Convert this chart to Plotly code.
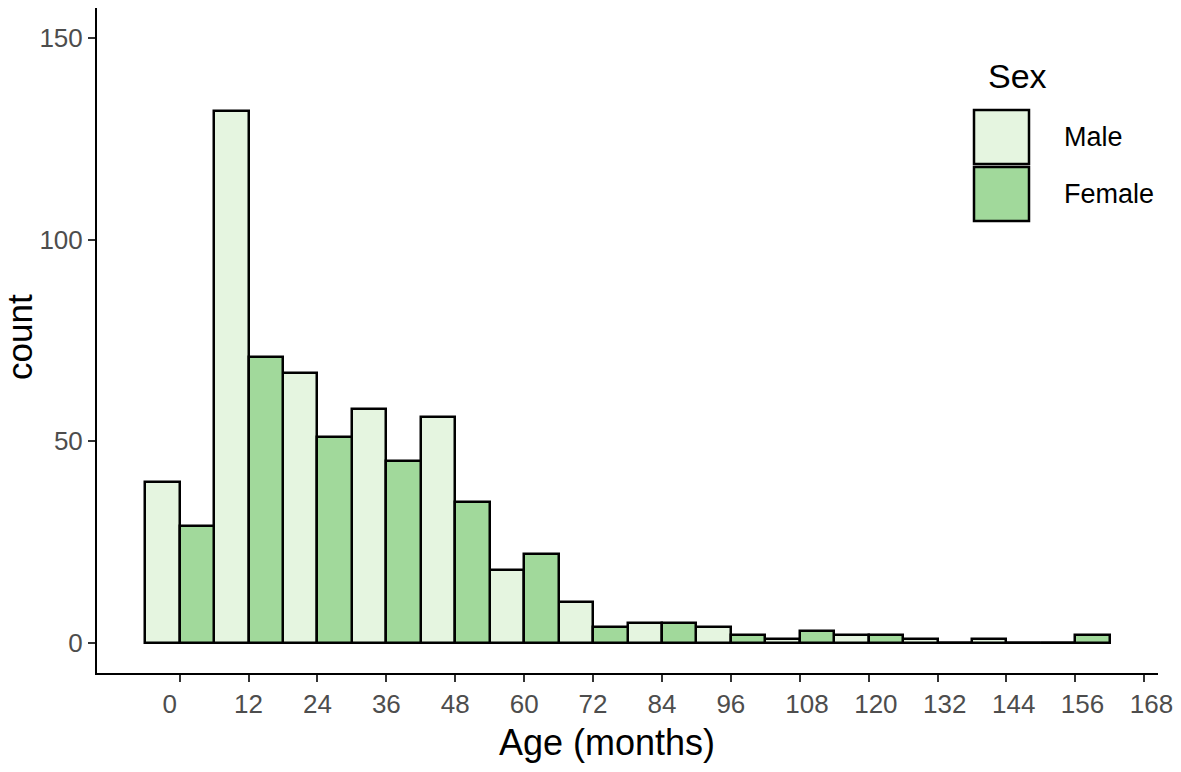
import plotly.graph_objects as go

# histogram counts, binwidth 12 centred on multiples of 12, dodged by sex
bin_centers = [0, 12, 24, 36, 48, 60, 72, 84, 96, 108, 120, 132, 144, 156]
male_counts = [40, 132, 67, 58, 56, 18, 10, 5, 4, 1, 2, 1, 1, 0]
female_counts = [29, 71, 51, 45, 35, 22, 4, 5, 2, 3, 2, 0, 0, 2]
x_ticks = list(range(0, 169, 12))
y_ticks = [0, 50, 100, 150]

male_fill = '#E5F5E0'
female_fill = '#A1D99B'
binwidth = 12

W, H = 1181, 772
L, R, T, B = 97, 23, 8, 99
font = 'Liberation Sans, Arial, sans-serif'


def px_x(x):
    # screen pixel -> paper coordinate
    return (x - L) / (W - L - R)


def px_y(y):
    return (H - B - y) / (H - T - B)


# labels in the original sit left-aligned-ish rather than centred; pad them
def pad_label(v):
    s = str(v)
    if len(s) == 1:
        return s + '\u2007\u2009'
    if len(s) == 3:
        return '\u2007' + s
    return s


x_labels = [pad_label(v) for v in x_ticks]

fig = go.Figure()
fig.add_trace(go.Bar(x=bin_centers, y=male_counts, name='Male',
                     marker=dict(color=male_fill, line=dict(color='black', width=2.5)),
                     showlegend=False))
fig.add_trace(go.Bar(x=bin_centers, y=female_counts, name='Female',
                     marker=dict(color=female_fill, line=dict(color='black', width=2.5)),
                     showlegend=False))

# empty bins still get their outline drawn flat on the baseline (as ggplot does)
zx, zy = [], []
for c, m, f in zip(bin_centers, male_counts, female_counts):
    if m == 0:
        zx += [c - binwidth / 2, c, None]
        zy += [0, 0, None]
    if f == 0:
        zx += [c, c + binwidth / 2, None]
        zy += [0, 0, None]
fig.add_trace(go.Scatter(x=zx, y=zy, mode='lines', line=dict(color='black', width=2.5),
                         showlegend=False, hoverinfo='skip'))

# legend drawn by hand so the keys are big like ggplot's
shapes = []
annotations = [
    dict(text='Sex', x=px_x(986), y=px_y(76), xref='paper', yref='paper',
         xanchor='left', yanchor='middle', showarrow=False,
         font=dict(family=font, size=34, color='black')),
    # axis titles
    dict(text='Age (months)', x=px_x(607), y=px_y(743), xref='paper', yref='paper',
         xanchor='center', yanchor='middle', showarrow=False,
         font=dict(family=font, size=36, color='black')),
    dict(text='count', x=px_x(19), y=px_y(337), xref='paper', yref='paper',
         xanchor='center', yanchor='middle', showarrow=False, textangle=-90,
         font=dict(family=font, size=35, color='black')),
]
for label, fill, y0, y1 in [('Male', male_fill, 110, 164), ('Female', female_fill, 167, 221)]:
    shapes.append(dict(type='rect', xref='paper', yref='paper',
                       x0=px_x(974), x1=px_x(1029), y0=px_y(y0), y1=px_y(y1),
                       fillcolor=fill, line=dict(color='black', width=2.5)))
    annotations.append(dict(text=label, x=px_x(1062), y=px_y((y0 + y1) / 2),
                            xref='paper', yref='paper', xanchor='left', yanchor='middle',
                            showarrow=False, font=dict(family=font, size=27, color='black')))

fig.update_layout(
    width=W, height=H,
    margin=dict(l=L, r=R, t=T, b=B, autoexpand=False),
    plot_bgcolor='white',
    paper_bgcolor='white',
    barmode='group',
    bargap=0,
    bargroupgap=0,
    font=dict(family=font),
    shapes=shapes,
    annotations=annotations,
)
fig.update_xaxes(range=[-14.4, 170.4], tickvals=x_ticks, ticktext=x_labels,
                 showgrid=False, zeroline=False,
                 showline=True, linecolor='black', linewidth=2,
                 ticks='outside', ticklen=7, tickwidth=2, tickcolor='#333333',
                 tickfont=dict(family=font, size=26, color='#4D4D4D'))
fig.update_yaxes(range=[-7.5, 157.5], tickvals=y_ticks, showgrid=False, zeroline=False,
                 showline=True, linecolor='black', linewidth=2,
                 ticks='outside', ticklen=7, tickwidth=2, tickcolor='#333333',
                 tickfont=dict(family=font, size=26, color='#4D4D4D'))

# drop the default 8px page margin so the figure sits at the window's corner
fig.write_html("out.html", config={'displayModeBar': False},
               post_script="document.body.style.margin = '0';")
